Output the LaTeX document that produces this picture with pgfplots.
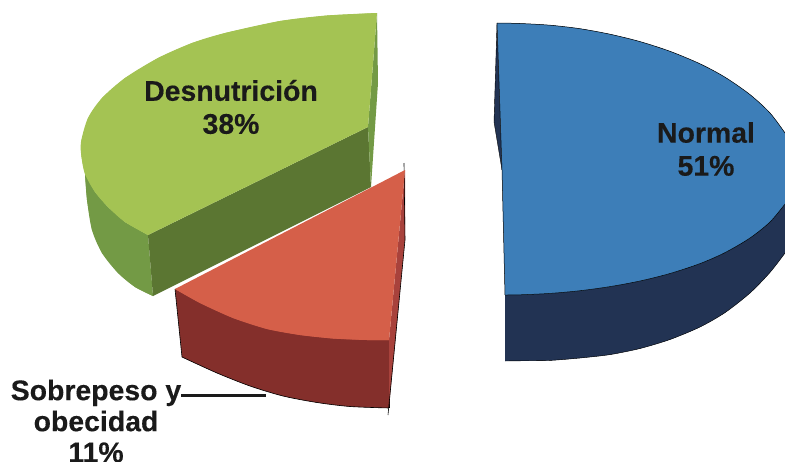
\documentclass[border=0pt]{standalone}
\usepackage{fontspec}
\setmainfont{Liberation Sans}[BoldFeatures={FakeBold=0.25}]
\usepackage{pgfplots}
\pgfplotsset{compat=1.18}

\definecolor{gtop}{HTML}{A4C353}
\definecolor{gside}{HTML}{739A45}
\definecolor{gcut}{HTML}{5B7632}
\definecolor{rtop}{HTML}{D55F49}
\definecolor{rside}{HTML}{842F2B}
\definecolor{rcut}{HTML}{A8423C}
\definecolor{btop}{HTML}{3D7EB8}
\definecolor{bside}{HTML}{223353}
\definecolor{ink}{HTML}{1A1A1A}

% contornos, en pixeles
\def\greentop{(377,13) (327,15.5) (280,21) (225,33) (192,43) (158,58) (125,78) (102,98) (88,118) (81,142) (81.5,157) (85,174) (95,192) (108,207) (125,222) (148,235)}
\def\greenout{(85,174) (87,200) (92,230) (102,253) (118,273) (135,287) (153,296)}
\def\redtop{(175,289) (200,303) (233,318) (267,329) (300,335) (333,338.5) (367,340) (389,340)}
\def\redout{(182,357) (217,373) (250,386) (283,396) (317,402.5) (350,406.5) (389,408)}
\def\bluetop{(497,23) (520,23.5) (550,25.2) (580,28.7) (610,34.2) (640,41.6) (670,51.3) (700,63.8) (725,77.2) (750,94.6) (770,113) (785,133)}
\def\bluelow{(785,204) (770,222) (750,238) (725,252.6) (700,263.6) (670,273.5) (640,281) (610,286.6) (580,290.7) (550,293.4) (520,294.8) (505,295)}
\def\blueout{(505,361) (520,360.8) (550,360.4) (580,358) (610,354.6) (640,348.5) (670,339.5) (700,327) (725,312.6) (750,293) (770,272.4) (785,253)}

\begin{document}
\begin{tikzpicture}[x=1pt,y=1pt,
  lbl/.style={align=center, text=ink, font=\fontsize{28.4}{33}\selectfont\bfseries}]
\path[use as bounding box] (0,0) rectangle (785,461);
\clip (0,0) rectangle (785,461);
\begin{axis}[
  at={(0,0)}, anchor=south west,
  scale only axis, width=785pt, height=461pt,
  xmin=0, xmax=785, ymin=0, ymax=461, y dir=reverse,
  hide axis, clip=true,
  every axis plot/.append style={forget plot},
]
% desnutricion
\addplot[fill=gside, draw=none] coordinates {\greenout (148,235) (125,222) (108,207) (95,192)};
\addplot[smooth, fill=gside, draw=none] coordinates {\greenout};
\addplot[fill=gcut, draw=none] coordinates {(148,235) (368,127) (371,187) (153,296)};
\addplot[fill=gside, draw=none] coordinates {(377,13) (378,83) (371,187) (368,127)};
\addplot[fill=gtop, draw=none] coordinates {\greentop (368,127)};
\addplot[smooth, fill=gtop, draw=none] coordinates {\greentop};
% sobrepeso
\addplot[fill=rside, draw=none] coordinates {(175,289) \redout (390,340)};
\addplot[smooth, fill=rside, draw=none] coordinates {\redout};
\addplot[black, line width=0.6pt] coordinates {(175,289) (182,357)};
\addplot[smooth, black, line width=0.6pt] coordinates {\redout};
\addplot[black, line width=0.6pt] coordinates {(389,340) (389,408)};
\addplot[fill=rcut, draw=none] coordinates {(405,170) (405,240) (389,407) (389,340)};
\addplot[black, line width=0.6pt] coordinates {(404,163) (405,240) (388,415)};
\addplot[fill=rtop, draw=none] coordinates {(405,170) \redtop};
\addplot[smooth, fill=rtop, draw=none] coordinates {\redtop};
% normal
\addplot[fill=bside, draw=black, line width=0.4pt] coordinates {(497,23) (494,122) (502,170)};
\addplot[fill=bside, draw=none] coordinates {\blueout \bluelow};
\addplot[smooth, fill=bside, draw=none] coordinates {\blueout};
\addplot[fill=btop, draw=none] coordinates {\bluetop \bluelow (502,170)};
\addplot[smooth, fill=btop, draw=none] coordinates {\bluetop};
\addplot[smooth, fill=btop, draw=none] coordinates {\bluelow};
\addplot[smooth, black, line width=0.5pt] coordinates {\bluetop};
\addplot[smooth, black, line width=0.5pt] coordinates {\bluelow};
\addplot[black, line width=0.5pt] coordinates {(497,23) (502,170) (505,295)};
\addplot[smooth, black, line width=0.4pt] coordinates {\blueout};
% etiquetas
\addplot[ink, line width=3pt] coordinates {(181,395) (266,395)};
\node[lbl] at (axis cs:231,107) {Desnutrición\\38\%};
\node[lbl] at (axis cs:706,149) {Normal\\51\%};
\node[lbl, font=\fontsize{28.4}{31}\selectfont\bfseries] at (axis cs:96,421) {Sobrepeso y\\obecidad\\11\%};
\end{axis}
\end{tikzpicture}
\end{document}
